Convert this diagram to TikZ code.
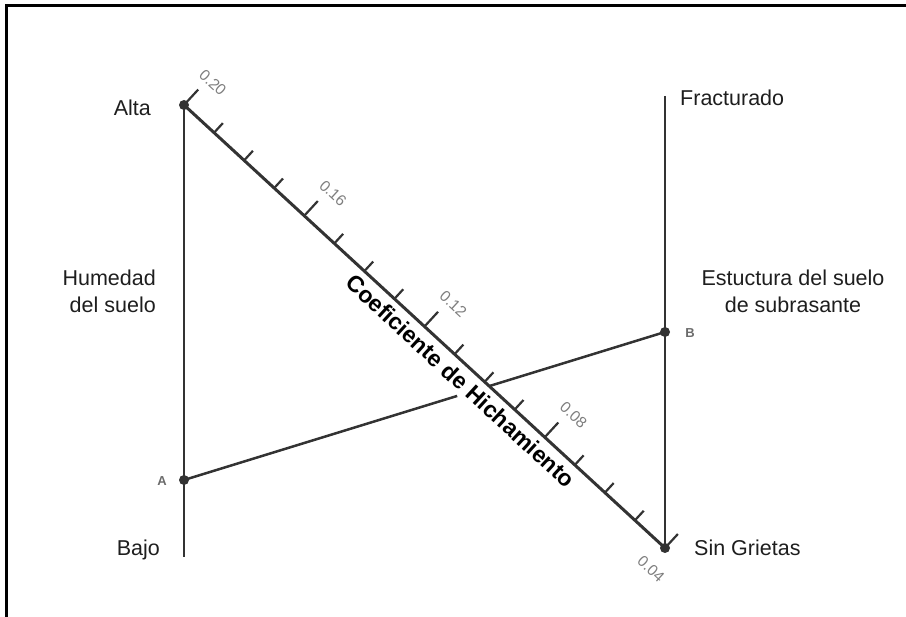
\documentclass[tikz,border=0pt]{standalone}
\usepackage{fontspec}
\setmainfont{Liberation Sans}[Ligatures=NoCommon]
\usetikzlibrary{calc}
\definecolor{ink}{HTML}{333333}
\definecolor{lblc}{HTML}{1E1E1E}
\definecolor{tickc}{HTML}{7E7E7E}
\begin{document}
\begin{tikzpicture}[x=1pt,y=-1pt,
  frame/.style={draw=black, line width=2.5pt},
  axis/.style={draw=ink, line width=2.5pt},
  scaleline/.style={draw=ink, line width=3pt},
  tickmark/.style={draw=ink, line width=2.2pt},
  dot/.style={circle, fill=ink, inner sep=0pt, minimum size=10pt},
  lab/.style={text=lblc, font=\fontsize{21.5}{27}\selectfont, inner sep=0pt},
  ticklab/.style={text=tickc, font=\fontsize{15.5}{17}\selectfont, rotate=-42.6, inner sep=0pt},
  ptlab/.style={text=tickc!85!black, font=\fontsize{13}{15}\selectfont\bfseries, inner sep=0pt},
  titlelab/.style={text=black, font=\fontsize{23}{27}\selectfont\bfseries, rotate=-42.6, inner sep=0pt},
]
\useasboundingbox (0,0) rectangle (906,617);
% frame
\draw[frame] (906,5.5) -- (6.5,5.5) -- (6.5,617);

% points
\node[dot] (P) at (184,105) {};
\node[dot] (Q) at (665,548) {};
\node[dot] (A) at (184,480) {};
\node[dot] (B) at (665,332) {};
\coordinate (Lbot) at (184,557);
\coordinate (Rtop) at (665,96);

% vertical axes
\draw[axis] (P.center) -- (Lbot);
\draw[axis] (Rtop) -- (Q.center);

% line A-B (interrupted by the label)
\draw[axis] (A.center) -- ($(A.center)!0.568!(B.center)$);
\draw[axis] (intersection of A.center--B.center and P.center--Q.center) -- (B.center);

% scale line
\draw[scaleline] (P.center) -- (Q.center);
\draw[tickmark] (P.center) -- ($(P.center)!21pt!90:(Q.center)$);
\draw[tickmark] (Q.center) -- ($(Q.center)!19pt!-90:(P.center)$);
\foreach \k in {1,...,15}{
  \pgfmathsetmacro\len{ifthenelse(mod(\k,4)==0,20,13)}
  \draw[tickmark] ($(P.center)!\k/16!(Q.center)$) -- ($($(P.center)!\k/16!(Q.center)$)!\len pt!90:(Q.center)$);
}
\foreach \k/\v in {0/0.20,4/0.16,8/0.12,12/0.08}{
  \node[ticklab] at ($(P.center)!\k/16!(Q.center) + (28.8,-22.4)$) {\v};
}
\node[ticklab] (t04) at ($(Q.center) + (-14,21)$) {0.04};

% scale title
\node[titlelab] (coef) at ($(P.center)!0.597!(Q.center)!15.6pt!-90:(Q.center)$) {Coeficiente de Hichamiento};

% point labels
\node[ptlab] (la) at (162,481) {A};
\node[ptlab] (lb) at (690,333) {B};

% text labels
\node[lab, anchor=base east] (alta) at (151,116) {Alta};
\node[lab, anchor=east, align=right] (hum) at (156,291) {Humedad\\del suelo};
\node[lab, anchor=base east] (bajo) at (160,556) {Bajo};
\node[lab, anchor=base west] (fract) at (680,106) {Fracturado};
\node[lab, align=center] (est) at (793,291) {Estuctura del suelo\\de subrasante};
\node[lab, anchor=base west] (sin) at (694,556) {Sin Grietas};
\end{tikzpicture}
\end{document}
